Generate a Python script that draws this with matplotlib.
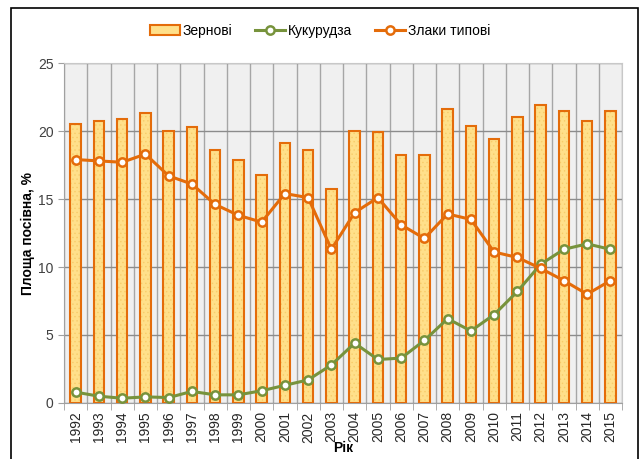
import matplotlib
matplotlib.use("Agg")
import matplotlib.pyplot as plt
from matplotlib.patches import Rectangle, Patch
import numpy as np

years = [str(y) for y in range(1992, 2016)]
zernovi = [20.5, 20.7, 20.9, 21.3, 20.0, 20.3, 18.6, 17.9, 16.8, 19.1, 18.6, 15.7,
           20.0, 19.9, 18.2, 18.2, 21.6, 20.4, 19.4, 21.0, 21.9, 21.5, 20.7, 21.5]
kukurudza = [0.8, 0.5, 0.35, 0.45, 0.4, 0.85, 0.6, 0.6, 0.9, 1.3, 1.7, 2.8,
             4.4, 3.2, 3.3, 4.6, 6.2, 5.3, 6.5, 8.2, 10.2, 11.3, 11.7, 11.3]
zlaky = [17.9, 17.8, 17.7, 18.3, 16.7, 16.1, 14.6, 13.8, 13.3, 15.4, 15.1, 11.3,
         14.0, 15.1, 13.1, 12.1, 13.9, 13.5, 11.1, 10.7, 9.9, 9.0, 8.0, 9.0]
yticks = [0, 5, 10, 15, 20, 25]

plt.rcParams['font.family'] = ['Liberation Sans', 'DejaVu Sans']
plt.rcParams['hatch.linewidth'] = 0.5

fig = plt.figure(figsize=(6.4, 4.59), dpi=100)
ax = fig.add_axes([64/640, 1-403/459, (622-64)/640, (403-63)/459])
ax.set_facecolor('#f0f0f0')

x = np.arange(len(years))
orange = '#E46C0A'
green = '#77933C'
fill = '#FFE08A'
hatchc = '#F8CC6A'

ax.bar(x, zernovi, width=0.45, color=fill, edgecolor=hatchc, linewidth=0,
       hatch='....', zorder=3)
ax.bar(x, zernovi, width=0.45, fill=False, edgecolor=orange, linewidth=1.5, zorder=3)
l1, = ax.plot(x, kukurudza, color=green, lw=2.2, marker='o', ms=6, mfc='white',
              mec=green, mew=1.8, label='Кукурудза', zorder=4)
l2, = ax.plot(x, zlaky, color=orange, lw=2.2, marker='o', ms=6, mfc='white',
              mec=orange, mew=1.8, label='Злаки типові', zorder=5)
bh = Patch(facecolor=fill, edgecolor=orange, linewidth=1.5)

ax.set_xlim(-0.5, len(years)-0.5)
ax.set_ylim(0, 25)
ax.set_yticks(yticks)
ax.set_xticks(x)
ax.set_xticklabels(years, rotation=90, fontsize=10, color='#262626')
ax.tick_params(axis='y', labelsize=10, colors='#404040', length=4, color='#a0a0a0')
ax.tick_params(axis='x', length=0, pad=6)
ax.set_xticks(np.arange(-0.5, len(years), 1), minor=True)
ax.tick_params(axis='x', which='minor', length=5, color='#a0a0a0')
ax.grid(axis='y', color='#8c8c8c', lw=1, zorder=1)
ax.grid(axis='x', which='minor', color='#a6a6a6', lw=1, zorder=1)
for s in ['top', 'right']:
    ax.spines[s].set_color('#c8c8c8')
for s in ['left', 'bottom']:
    ax.spines[s].set_color('#a0a0a0')

ax.set_ylabel('Площа посівна, %', fontsize=10, fontweight='bold', labelpad=2)
ax.set_xlabel('Рік', fontsize=10, fontweight='bold', labelpad=-1)

fig.legend([bh, l1, l2], ['Зернові', 'Кукурудза', 'Злаки типові'],
           loc='upper center', bbox_to_anchor=(0.5, 0.975), ncol=3, frameon=False,
           fontsize=10, handlelength=2.2, columnspacing=1.6, handletextpad=0.2)

fig.patches.append(Rectangle((11/640, -0.05), (638-11)/640, 1-8/459+0.05,
                             transform=fig.transFigure, fill=False,
                             edgecolor='black', lw=1.2))

fig.savefig('out.png', dpi=100)
